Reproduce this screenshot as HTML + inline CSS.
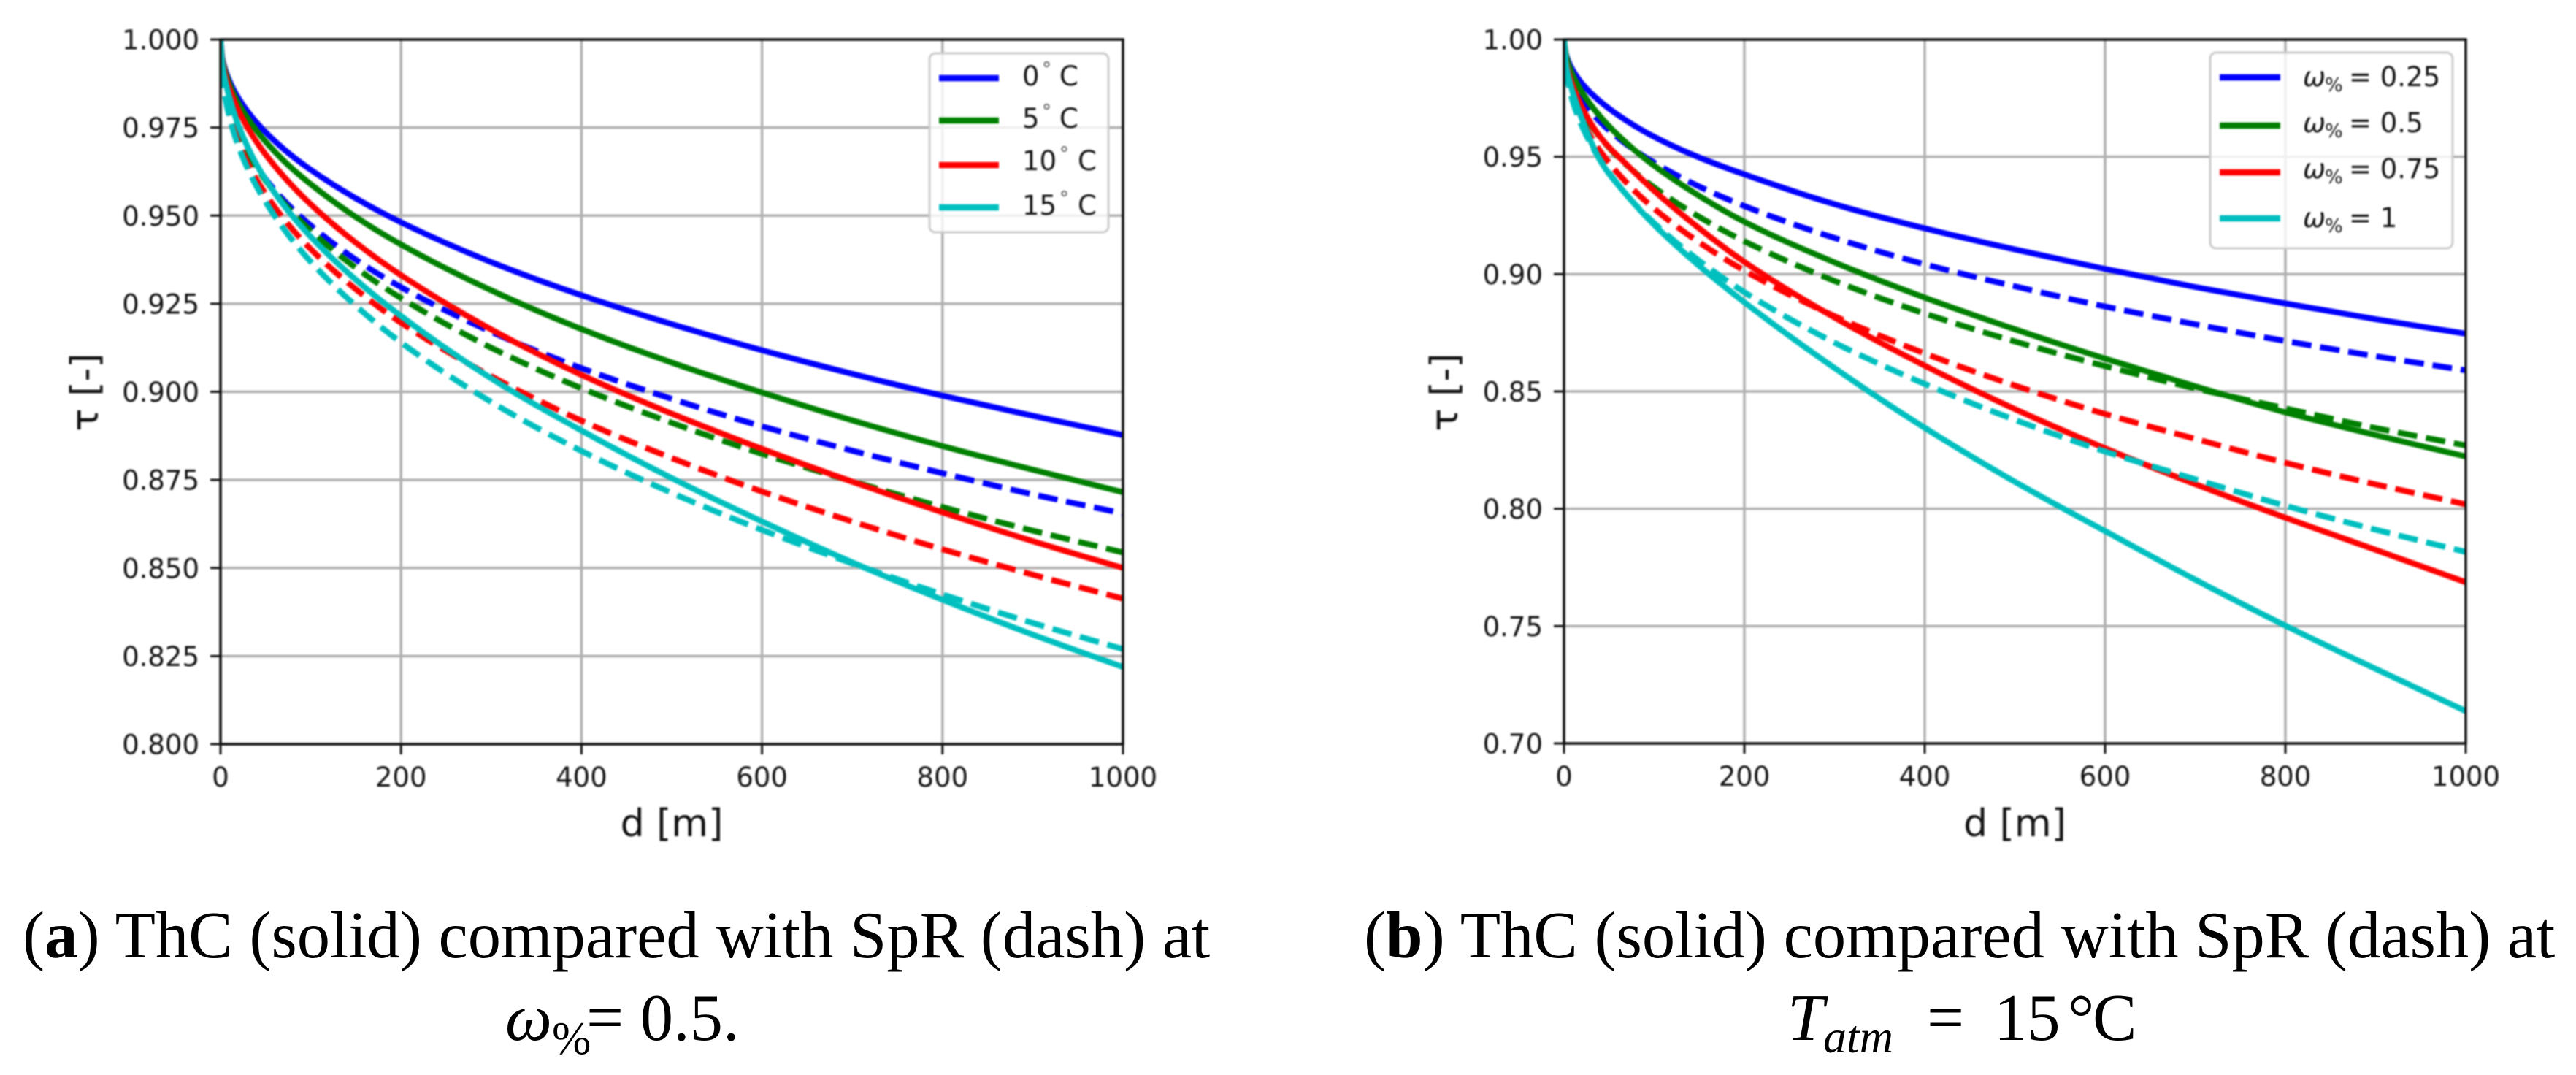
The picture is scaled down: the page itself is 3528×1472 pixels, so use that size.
<!DOCTYPE html>
<html lang="en">
<head>
<meta charset="utf-8">
<title>ThC compared with SpR</title>
<style>
html,body{margin:0;padding:0;background:#fff;}
body{width:3528px;height:1472px;overflow:hidden;}
svg{display:block;}
.plot-layer{filter:blur(1.1px);}
.tick{font-family:"DejaVu Sans",sans-serif;font-size:37px;fill:#111;}
.axis-title{font-family:"DejaVu Sans",sans-serif;font-size:52px;fill:#111;}
.leg{font-family:"DejaVu Sans",sans-serif;font-size:37px;fill:#111;}
.cap{font-family:"Liberation Serif",serif;font-size:90.6px;fill:#000;}
</style>
</head>
<body>
<svg id="figure" xmlns="http://www.w3.org/2000/svg" width="3528" height="1472" viewBox="0 0 3528 1472">
  <rect width="3528" height="1472" fill="#fff"/>
  <defs>
    <clipPath id="clip-a"><rect x="302" y="54" width="1236" height="965"/></clipPath>
    <clipPath id="clip-b"><rect x="2142" y="54" width="1235" height="964"/></clipPath>
  </defs>
  <g id="panel-a" class="plot-layer"></g>
  <g id="panel-b" class="plot-layer"></g>

  <g class="plot-layer">
    <rect x="1273" y="73" width="245" height="245" rx="8" fill="#fff" fill-opacity="0.8" stroke="#cccccc" stroke-width="3"/>
    <line x1="1286" x2="1368" y1="107" y2="107" stroke="#0000ff" stroke-width="8.5"/>
    <line x1="1286" x2="1368" y1="165" y2="165" stroke="#008000" stroke-width="8.5"/>
    <line x1="1286" x2="1368" y1="226" y2="226" stroke="#ff0000" stroke-width="8.5"/>
    <line x1="1286" x2="1368" y1="284" y2="284" stroke="#00bfbf" stroke-width="8.5"/>
    <text class="leg" x="1400" y="117">0<tspan x="1427" y="103" font-size="26" fill="#555">°</tspan><tspan x="1451" y="117">C</tspan></text>
    <text class="leg" x="1400" y="175">5<tspan x="1427" y="161" font-size="26" fill="#555">°</tspan><tspan x="1451" y="175">C</tspan></text>
    <text class="leg" x="1400" y="233">10<tspan x="1451" y="219" font-size="26" fill="#555">°</tspan><tspan x="1476" y="233">C</tspan></text>
    <text class="leg" x="1400" y="294">15<tspan x="1451" y="280" font-size="26" fill="#555">°</tspan><tspan x="1476" y="294">C</tspan></text>
  </g>

  <g class="plot-layer">
    <rect x="3027" y="72" width="332" height="268" rx="8" fill="#fff" fill-opacity="0.8" stroke="#cccccc" stroke-width="3"/>
    <line x1="3040" x2="3123" y1="106" y2="106" stroke="#0000ff" stroke-width="8.5"/>
    <line x1="3040" x2="3123" y1="172" y2="172" stroke="#008000" stroke-width="8.5"/>
    <line x1="3040" x2="3123" y1="236" y2="236" stroke="#ff0000" stroke-width="8.5"/>
    <line x1="3040" x2="3123" y1="299" y2="299" stroke="#00bfbf" stroke-width="8.5"/>
    <text class="leg" x="3154" y="118"><tspan font-style="italic">ω</tspan><tspan x="3184" y="125" font-size="26">%</tspan><tspan x="3217" y="118">= 0.25</tspan></text>
    <text class="leg" x="3154" y="181"><tspan font-style="italic">ω</tspan><tspan x="3184" y="188" font-size="26">%</tspan><tspan x="3217" y="181">= 0.5</tspan></text>
    <text class="leg" x="3154" y="244"><tspan font-style="italic">ω</tspan><tspan x="3184" y="251" font-size="26">%</tspan><tspan x="3217" y="244">= 0.75</tspan></text>
    <text class="leg" x="3154" y="311"><tspan font-style="italic">ω</tspan><tspan x="3184" y="318" font-size="26">%</tspan><tspan x="3217" y="311">= 1</tspan></text>
  </g>

  <g>
    <text class="cap" x="31" y="1311">(<tspan font-weight="bold">a</tspan>) ThC (solid) compared with SpR (dash) at</text>
    <text class="cap" y="1424"><tspan x="692" font-style="italic">ω</tspan><tspan x="756" y="1443" font-size="64">%</tspan><tspan x="803" y="1424">= 0.5.</tspan></text>
  </g>
  <g>
    <text class="cap" x="1868" y="1311">(<tspan font-weight="bold">b</tspan>) ThC (solid) compared with SpR (dash) at</text>
    <text class="cap" y="1424"><tspan x="2448" font-style="italic">T</tspan><tspan x="2497" y="1441" font-size="64" font-style="italic">atm</tspan><tspan x="2639" y="1424">=</tspan><tspan x="2731">15</tspan><tspan x="2832">°</tspan><tspan x="2866">C</tspan></text>
  </g>
</svg>
<script>
// Sampled distances (m) shared by every curve
const distances = [0,2,5,10,20,40,70,100,150,200,300,400,500,600,700,800,900,1000];

// Panel (a): ThC (solid) and SpR (dash) by temperature
const a0cSolid  = [1,.9947,.9916,.9882,.9833,.9764,.9689,.9630,.9549,.9481,.9368,.9274,.9192,.9118,.9051,.8989,.8932,.8877];
const a0cDash   = [1,.9898,.9849,.9798,.9730,.9639,.9544,.9472,.9375,.9297,.9170,.9067,.8980,.8902,.8833,.8769,.8709,.8655];
const a5cSolid  = [1,.9944,.9911,.9873,.9818,.9741,.9656,.9589,.9496,.9418,.9288,.9178,.9083,.8998,.8919,.8846,.8779,.8715];
const a5cDash   = [1,.9904,.9856,.9804,.9733,.9637,.9536,.9457,.9352,.9266,.9125,.9010,.8912,.8824,.8746,.8673,.8606,.8544];
const a10cSolid = [1,.9940,.9902,.9860,.9798,.9709,.9611,.9532,.9423,.9331,.9177,.9048,.8938,.8838,.8745,.8658,.8576,.8500];
const a10cDash  = [1,.9895,.9842,.9785,.9707,.9602,.9491,.9405,.9291,.9196,.9044,.8918,.8812,.8717,.8632,.8553,.8481,.8413];
const a15cSolid = [1,.9930,.9885,.9835,.9755,.9645,.9530,.9440,.9318,.9215,.9038,.8890,.8755,.8632,.8516,.8410,.8311,.8219];
const a15cDash  = [1,.9895,.9839,.9779,.9696,.9583,.9463,.9369,.9244,.9140,.8971,.8832,.8713,.8608,.8513,.8425,.8344,.8270];

// Panel (b): ThC (solid) and SpR (dash) by humidity fraction
const b25Solid  = [1,.9940,.9906,.9867,.9812,.9736,.9652,.9585,.9497,.9425,.9298,.9195,.9105,.9022,.8945,.8875,.8808,.8746];
const b25Dash   = [1,.9908,.9861,.9811,.9742,.9649,.9551,.9475,.9373,.9290,.9154,.9042,.8948,.8862,.8786,.8715,.8650,.8590];
const b50Solid  = [1,.9936,.9894,.9845,.9775,.9672,.9556,.9462,.9333,.9223,.9050,.8900,.8765,.8640,.8522,.8411,.8314,.8223];
const b50Dash   = [1,.9895,.9839,.9779,.9696,.9583,.9463,.9369,.9244,.9140,.8971,.8832,.8713,.8608,.8513,.8428,.8344,.8270];
const b75Solid  = [1,.9910,.9860,.9800,.9710,.9585,.9465,.9355,.9195,.9052,.8815,.8610,.8425,.8258,.8105,.7962,.7825,.7687];
const b75Dash   = [1,.9882,.9819,.9750,.9655,.9525,.9387,.9279,.9135,.9015,.8821,.8662,.8525,.8404,.8298,.8196,.8104,.8019];
const b100Solid = [1,.9900,.9840,.9770,.9660,.9485,.9335,.9210,.9035,.8880,.8600,.8345,.8115,.7905,.7698,.7502,.7318,.7138];
const b100Dash  = [1,.9876,.9808,.9733,.9630,.9488,.9335,.9217,.9057,.8923,.8708,.8532,.8379,.8244,.8126,.8013,.7911,.7816];

// Axis ticks
const xTicks = [0,200,400,600,800,1000];
const yTicksA = [0.800,0.825,0.850,0.875,0.900,0.925,0.950,0.975,1.000];
const yTicksB = [0.70,0.75,0.80,0.85,0.90,0.95,1.00];

const SVG_NS = 'http://www.w3.org/2000/svg';

function makeEl(parent, tag, attrs, text) {
  const el = document.createElementNS(SVG_NS, tag);
  for (const k in attrs) el.setAttribute(k, attrs[k]);
  if (text !== undefined) el.textContent = text;
  parent.appendChild(el);
  return el;
}

// Monotone cubic path through pixel points
function monotonePath(pts) {
  const n = pts.length;
  const h = [], s = [], t = [];
  for (let i = 0; i < n - 1; i++) {
    h[i] = pts[i + 1][0] - pts[i][0];
    s[i] = (pts[i + 1][1] - pts[i][1]) / h[i];
  }
  t[0] = s[0];
  t[n - 1] = s[n - 2];
  for (let i = 1; i < n - 1; i++) {
    t[i] = s[i - 1] * s[i] <= 0 ? 0 :
      3 * (h[i - 1] + h[i]) / ((2 * h[i] + h[i - 1]) / s[i - 1] + (h[i] + 2 * h[i - 1]) / s[i]);
  }
  let d = 'M' + pts[0][0].toFixed(2) + ' ' + pts[0][1].toFixed(2);
  for (let i = 0; i < n - 1; i++) {
    const dx = h[i] / 3;
    d += 'C' + (pts[i][0] + dx).toFixed(2) + ' ' + (pts[i][1] + dx * t[i]).toFixed(2) + ' ' +
         (pts[i + 1][0] - dx).toFixed(2) + ' ' + (pts[i + 1][1] - dx * t[i + 1]).toFixed(2) + ' ' +
         pts[i + 1][0].toFixed(2) + ' ' + pts[i + 1][1].toFixed(2);
  }
  return d;
}

function drawPanel(cfg) {
  const root = document.getElementById(cfg.id);
  const xScale = d => cfg.left + (d - 0) / (1000 - 0) * (cfg.right - cfg.left);
  const yScale = v => cfg.bottom - (v - cfg.yMin) / (1 - cfg.yMin) * (cfg.bottom - cfg.top);

  xTicks.forEach(t => {
    const grid = makeEl(root, 'line', {x1: xScale(t), x2: xScale(t), y1: cfg.top, y2: cfg.bottom, stroke: '#b0b0b0', 'stroke-width': 3.5});
    
    
    const tick = makeEl(root, 'line', {x1: xScale(t), x2: xScale(t), y1: cfg.bottom, y2: cfg.bottom + 14, stroke: '#111', 'stroke-width': 3});
    
    
    const label = makeEl(root, 'text', {x: xScale(t), y: cfg.bottom + 58, 'text-anchor': 'middle', class: 'tick'}, String(t));
    
    
  });
  cfg.yTicks.forEach(t => {
    const grid = makeEl(root, 'line', {x1: cfg.left, x2: cfg.right, y1: yScale(t), y2: yScale(t), stroke: '#b0b0b0', 'stroke-width': 3.5});
    
    
    const tick = makeEl(root, 'line', {x1: cfg.left - 14, x2: cfg.left, y1: yScale(t), y2: yScale(t), stroke: '#111', 'stroke-width': 3});
    
    
    const label = makeEl(root, 'text', {x: cfg.left - 29, y: yScale(t) + 13.5, 'text-anchor': 'end', class: 'tick'}, t.toFixed(cfg.decimals));
    
    
  });

  const lines = makeEl(root, 'g', {'clip-path': 'url(#' + cfg.clip + ')'});
  
  
  cfg.series.forEach(s => {
    const pts = distances.map((d, i) => [xScale(d), yScale(s.values[i])]);
    const p = makeEl(lines, 'path', {d: monotonePath(pts), fill: 'none', stroke: s.color, 'stroke-width': 8});
    if (s.dash) p.setAttribute('stroke-dasharray', '27 12');
    
    
  });

  const frame = makeEl(root, 'rect', {x: cfg.left, y: cfg.top, width: cfg.right - cfg.left, height: cfg.bottom - cfg.top, fill: 'none', stroke: '#111', 'stroke-width': 3.5});
  
  

  const xTitle = makeEl(root, 'text', {x: (cfg.left + cfg.right) / 2, y: 1145, 'text-anchor': 'middle', class: 'axis-title'}, 'd [m]');
  
  
  const yTitle = makeEl(root, 'text', {x: 0, y: 0, 'text-anchor': 'middle', class: 'axis-title', transform: 'translate(' + cfg.yTitleX + ' 537) rotate(-90)'}, 'τ [-]');
  
  
}

drawPanel({
  id: 'panel-a', clip: 'clip-a', left: 302, right: 1538, top: 54, bottom: 1019, yMin: 0.8,
  yTicks: yTicksA, decimals: 3, yTitleX: 134,
  series: [
    {name: 'solid-0c',  color: '#0000ff', values: a0cSolid},
    {name: 'dash-0c',   color: '#0000ff', values: a0cDash, dash: true},
    {name: 'solid-5c',  color: '#008000', values: a5cSolid},
    {name: 'dash-5c',   color: '#008000', values: a5cDash, dash: true},
    {name: 'solid-10c', color: '#ff0000', values: a10cSolid},
    {name: 'dash-10c',  color: '#ff0000', values: a10cDash, dash: true},
    {name: 'solid-15c', color: '#00bfbf', values: a15cSolid},
    {name: 'dash-15c',  color: '#00bfbf', values: a15cDash, dash: true}
  ]
});

drawPanel({
  id: 'panel-b', clip: 'clip-b', left: 2142, right: 3377, top: 54, bottom: 1018, yMin: 0.7,
  yTicks: yTicksB, decimals: 2, yTitleX: 1996,
  series: [
    {name: 'solid-w025', color: '#0000ff', values: b25Solid},
    {name: 'dash-w025',  color: '#0000ff', values: b25Dash, dash: true},
    {name: 'solid-w05',  color: '#008000', values: b50Solid},
    {name: 'dash-w05',   color: '#008000', values: b50Dash, dash: true},
    {name: 'solid-w075', color: '#ff0000', values: b75Solid},
    {name: 'dash-w075',  color: '#ff0000', values: b75Dash, dash: true},
    {name: 'solid-w1',   color: '#00bfbf', values: b100Solid},
    {name: 'dash-w1',    color: '#00bfbf', values: b100Dash, dash: true}
  ]
});
</script>
</body>
</html>
